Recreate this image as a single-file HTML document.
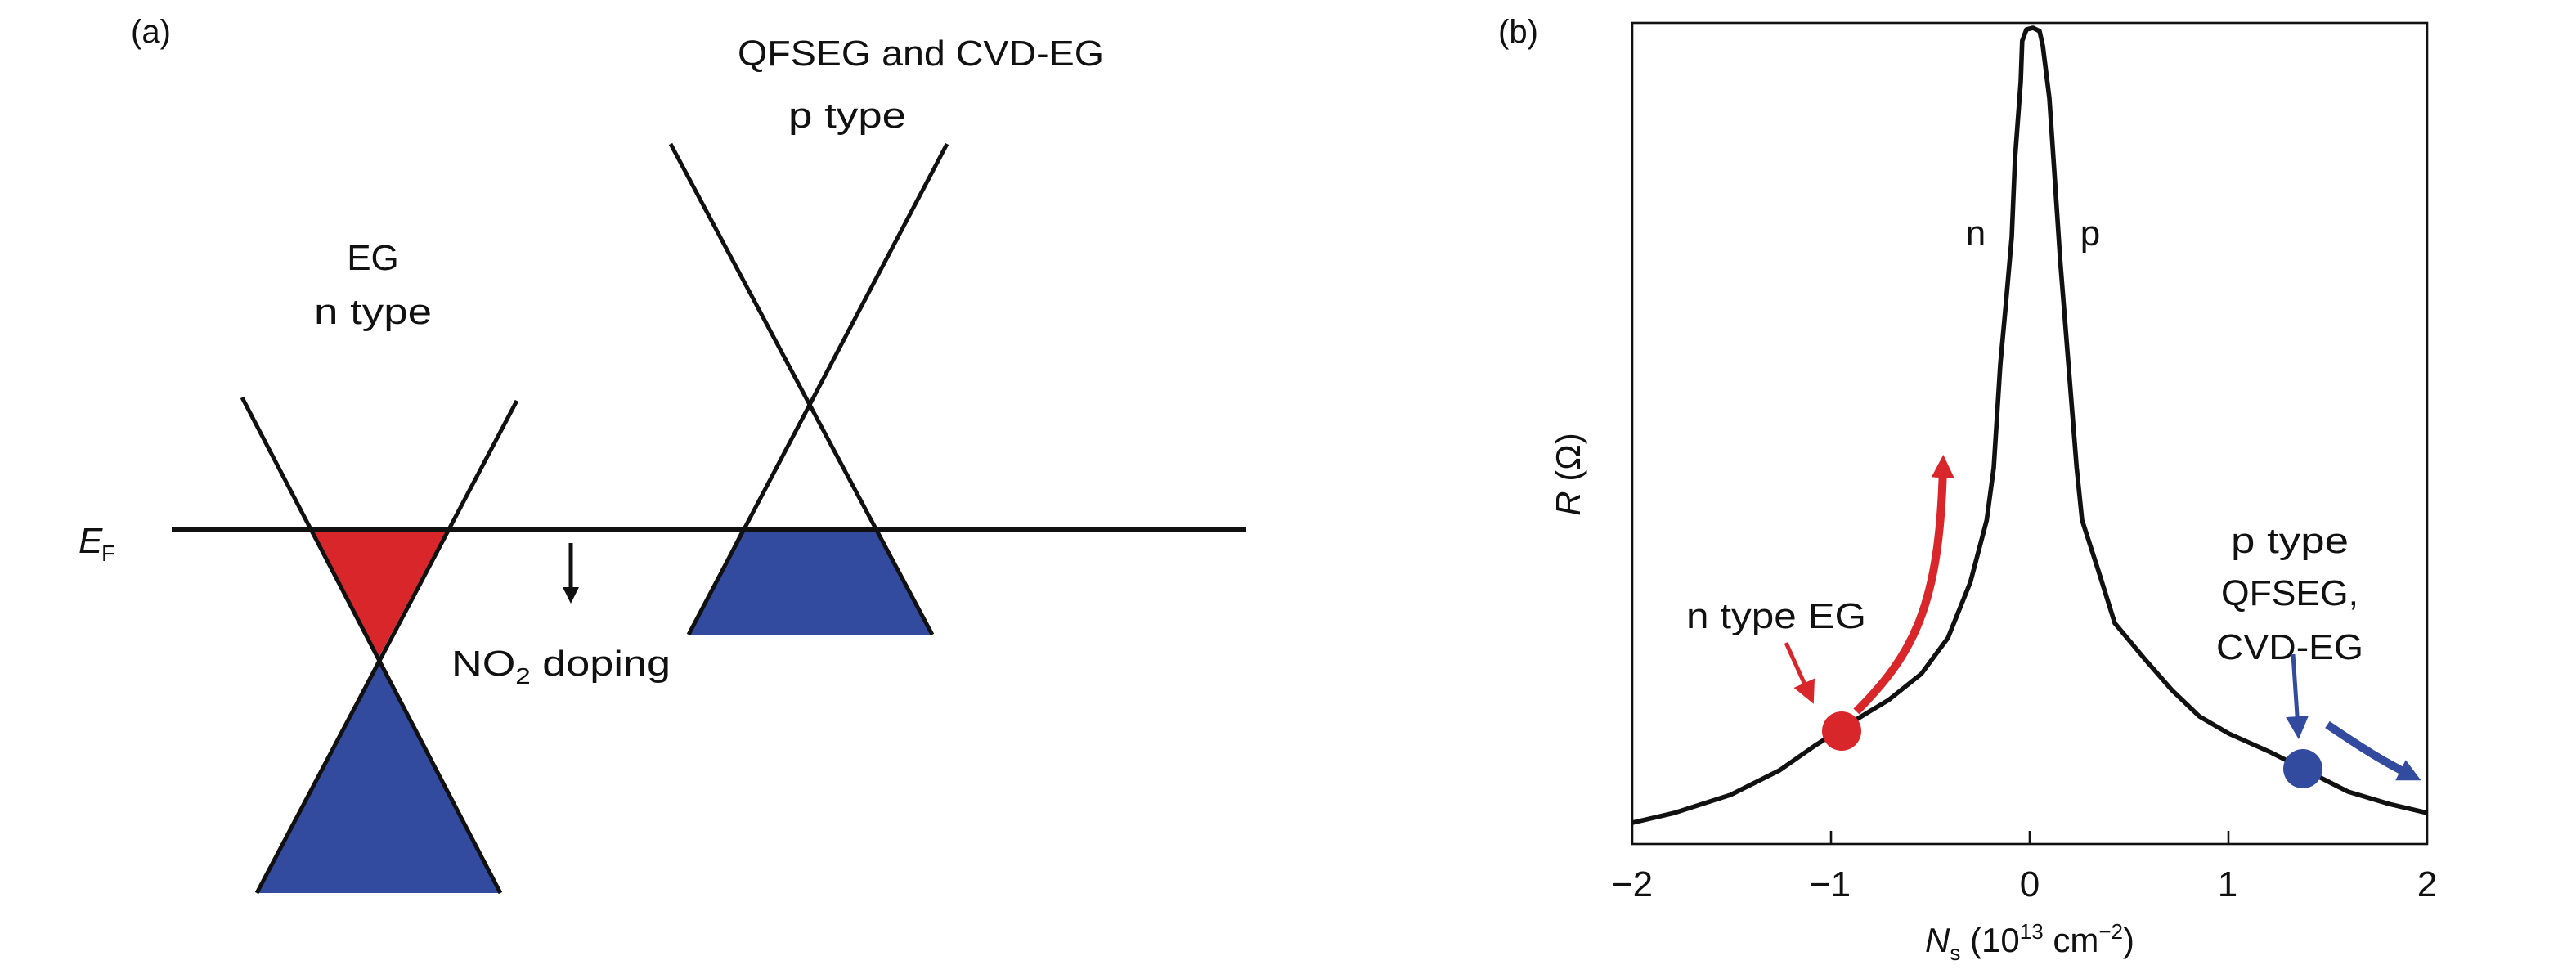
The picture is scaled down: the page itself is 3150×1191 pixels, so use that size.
<!DOCTYPE html>
<html><head><meta charset="utf-8"><style>
html,body{margin:0;padding:0;background:#fff;}
svg{display:block;}
text{font-family:"Liberation Sans",sans-serif;fill:#111;}
</style></head><body>
<svg width="3150" height="1191" viewBox="0 0 1575 595.5" xmlns="http://www.w3.org/2000/svg">
<defs>
<marker id="ak" markerWidth="10" markerHeight="10" refX="5" refY="5" orient="auto" markerUnits="userSpaceOnUse"><path d="M0,0 L10,5 L0,10 Z" fill="#111"/></marker>
<marker id="ar" markerWidth="14" markerHeight="14" refX="7" refY="7" orient="auto" markerUnits="userSpaceOnUse"><path d="M0,0 L14,7 L0,14 Z" fill="#d9262a"/></marker>
<marker id="ab" markerWidth="14" markerHeight="14" refX="7" refY="7" orient="auto" markerUnits="userSpaceOnUse"><path d="M0,0 L14,7 L0,14 Z" fill="#334b9e"/></marker>
</defs>
<!-- panel a -->
<text x="80" y="26" font-size="20">(a)</text>
<text x="563" y="40" font-size="22" text-anchor="middle" textLength="224" lengthAdjust="spacingAndGlyphs">QFSEG and CVD-EG</text>
<text x="518" y="78" font-size="22" text-anchor="middle" textLength="72" lengthAdjust="spacingAndGlyphs">p type</text>
<text x="228" y="165" font-size="22" text-anchor="middle">EG</text>
<text x="228" y="198" font-size="22" text-anchor="middle" textLength="72" lengthAdjust="spacingAndGlyphs">n type</text>
<text x="48" y="338" font-size="22" font-style="italic">E</text><text x="62" y="343" font-size="14">F</text>
<polygon points="190,324 273,324 231,403" fill="#d9262a"/>
<polygon points="231,403 157,546 306,546" fill="#334b9e"/>
<polygon points="453,324 536,324 570,388 421,388" fill="#334b9e"/>
<line x1="105" y1="324" x2="762" y2="324" stroke="#111" stroke-width="3"/>
<line x1="148" y1="243" x2="306" y2="546" stroke="#111" stroke-width="2.5"/>
<line x1="316" y1="245" x2="157" y2="546" stroke="#111" stroke-width="2.5"/>
<line x1="410" y1="88" x2="570" y2="388" stroke="#111" stroke-width="2.5"/>
<line x1="579" y1="88" x2="421" y2="388" stroke="#111" stroke-width="2.5"/>
<line x1="349" y1="332" x2="349" y2="364" stroke="#111" stroke-width="2.5" marker-end="url(#ak)"/>
<text x="276" y="413" font-size="22" textLength="134" lengthAdjust="spacingAndGlyphs">NO<tspan font-size="14" dy="5">2</tspan><tspan dy="-5"> doping</tspan></text>
<!-- panel b -->
<text x="916" y="26" font-size="20">(b)</text>
<rect x="998" y="14" width="486" height="502" fill="none" stroke="#111" stroke-width="1.3"/>
<g stroke="#111" stroke-width="1.3">
<line x1="1119.5" y1="516" x2="1119.5" y2="508"/><line x1="1241" y1="516" x2="1241" y2="508"/><line x1="1362.5" y1="516" x2="1362.5" y2="508"/>
</g>
<g font-size="22" text-anchor="middle">
<text x="998" y="548">−2</text><text x="1119" y="548">−1</text><text x="1241" y="548">0</text><text x="1362" y="548">1</text><text x="1484" y="548">2</text>
</g>
<text x="1241" y="582" font-size="21" text-anchor="middle"><tspan font-style="italic">N</tspan><tspan font-size="13" dy="5">s</tspan><tspan dy="-5"> (10</tspan><tspan font-size="13" dy="-8">13</tspan><tspan dy="8"> cm</tspan><tspan font-size="13" dy="-8">−2</tspan><tspan dy="8">)</tspan></text>
<text transform="translate(966,290) rotate(-90)" font-size="21" text-anchor="middle"><tspan font-style="italic">R</tspan> (Ω)</text>
<polyline fill="none" stroke="#111" stroke-width="2.8" stroke-linejoin="round" points="998,503 1023.7,497 1058,486 1088,471 1109.5,456 1126.7,445 1144.7,434 1154.7,428 1174.7,412 1191,390 1204.7,356 1214.7,318 1219,286 1223,223 1226.4,186 1230,145 1232,97 1235.5,50 1236.4,25 1239,18 1243,17 1247,19 1249,28 1253,60 1255.5,97 1259.7,160 1264.7,223 1269.7,286 1273,318 1283,349 1293,381 1311.4,403 1328,422 1344.7,438 1362.7,448.5 1388.4,460 1410,471 1435.6,484 1461,491.6 1484,497"/>
<text x="1208" y="150" font-size="22" text-anchor="middle">n</text>
<text x="1278" y="150" font-size="22" text-anchor="middle">p</text>
<text x="1086" y="384" font-size="22" text-anchor="middle" textLength="110" lengthAdjust="spacingAndGlyphs">n type EG</text>
<text x="1400" y="338" font-size="22" text-anchor="middle" textLength="72" lengthAdjust="spacingAndGlyphs">p type</text>
<text x="1400" y="370" font-size="22" text-anchor="middle" textLength="84" lengthAdjust="spacingAndGlyphs">QFSEG,</text>
<text x="1400" y="403" font-size="22" text-anchor="middle" textLength="90" lengthAdjust="spacingAndGlyphs">CVD-EG</text>
<line x1="1092" y1="393" x2="1106" y2="424" stroke="#d9262a" stroke-width="2.5" marker-end="url(#ar)"/>
<path d="M1135,435 C1170,400 1186,370 1188,285" fill="none" stroke="#d9262a" stroke-width="5" marker-end="url(#ar)"/>
<circle cx="1126" cy="447" r="12" fill="#d9262a"/>
<line x1="1402" y1="400" x2="1405" y2="445" stroke="#334b9e" stroke-width="2.5" marker-end="url(#ab)"/>
<path d="M1423,443 C1445,458 1458,466 1474,474" fill="none" stroke="#334b9e" stroke-width="5" marker-end="url(#ab)"/>
<circle cx="1408" cy="470" r="12" fill="#334b9e"/>
</svg>
</body></html>
